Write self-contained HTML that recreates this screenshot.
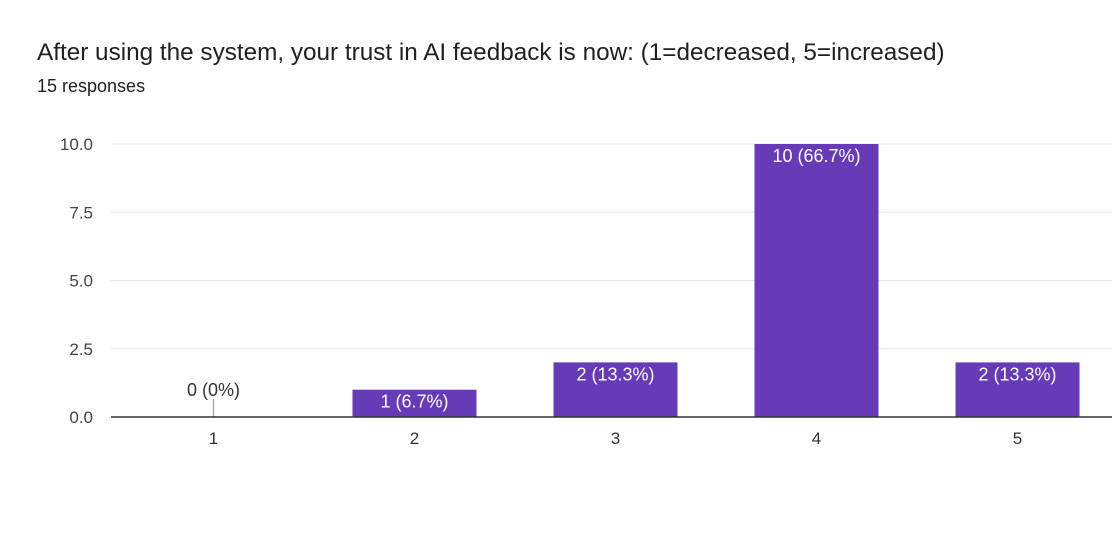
<!DOCTYPE html>
<html><head><meta charset="utf-8"><style>
body{margin:0;background:#fff;width:1112px;height:531px;overflow:hidden;font-family:"Liberation Sans",Arial,sans-serif}
</style></head><body>
<svg id="chart" width="1112" height="531" xmlns="http://www.w3.org/2000/svg">
<text x="37" y="60" font-size="24.3" fill="#202124">After using the system, your trust in AI feedback is now: (1=decreased, 5=increased)</text>
<text x="37" y="92" font-size="18" fill="#202124">15 responses</text>
<g id="grid"></g><g id="bars"></g><g id="axis"></g>
</svg>
<script>
const categories=["1","2","3","4","5"];
const counts=[0,1,2,10,2];
const pctLabels=["0%","6.7%","13.3%","66.7%","13.3%"];
const yTicks=[0,2.5,5,7.5,10];
const yTickLabels=["0.0","2.5","5.0","7.5","10.0"];
const NS="http://www.w3.org/2000/svg";
const x0=113,band=201,y0=417,yTop=144,yMax=10,barW=124;
const yS=v=>y0-(v/yMax)*(y0-yTop);
const xC=i=>x0+band*(i+0.5);
function mk(t,a,p,txt){const e=document.createElementNS(NS,t);for(const k in a)e.setAttribute(k,a[k]);if(txt!==undefined)e.textContent=txt;p.appendChild(e);return e;}
const g=document.getElementById('grid'),b=document.getElementById('bars'),ax=document.getElementById('axis');
yTicks.forEach((v,i)=>{
 if(v>0){const l=mk('line',{x1:111,x2:1112,y1:yS(v),y2:yS(v),stroke:'#e8e8e8','stroke-width':1},g);
 
 }
 const t=mk('text',{x:93,y:yS(v)+6,'font-size':17,fill:'#444','text-anchor':'end'},g,yTickLabels[i]);
 
 
});
categories.forEach((c,i)=>{
 const v=counts[i],cx=xC(i),lab=v+' ('+pctLabels[i]+')';
 if(v>0){
  const r=mk('rect',{x:cx-barW/2,y:yS(v),width:barW,height:y0-yS(v),fill:'#673ab7'},b);
  
  
  const t=mk('text',{x:cx,y:yS(v)+18,'font-size':18,fill:'#fff','text-anchor':'middle'},b,lab);
  
  
 }else{
  const l=mk('line',{x1:cx,x2:cx,y1:y0-18,y2:y0,stroke:'#aaa','stroke-width':1.5},b);
  
  
  const t=mk('text',{x:cx,y:y0-21,'font-size':18,fill:'#333','text-anchor':'middle'},b,lab);
  
  
 }
 const xt=mk('text',{x:cx,y:y0+27,'font-size':17,fill:'#333','text-anchor':'middle'},ax,c);
 
 
});
const base=mk('line',{x1:111,x2:1112,y1:y0,y2:y0,stroke:'#333','stroke-width':1.5},ax);


</script>
</body></html>
